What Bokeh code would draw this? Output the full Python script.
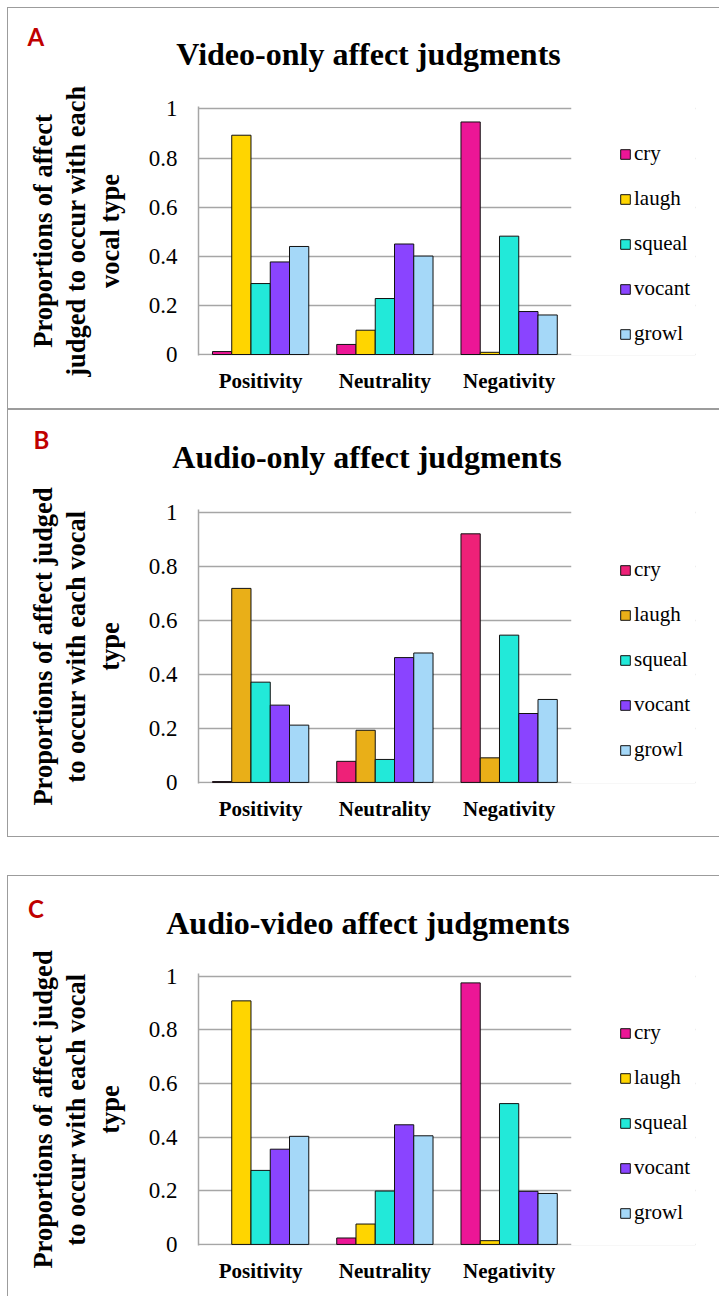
from bokeh.plotting import figure
from bokeh.models import (ColumnDataSource, FactorRange, Range1d, FixedTicker,
                          CustomJSTickFormatter, Legend, LegendItem, Label,
                          Spacer, BoxAnnotation)
from bokeh.layouts import column
from bokeh.transform import dodge
from bokeh.embed import file_html
from bokeh.resources import INLINE

categories = ["Positivity", "Neutrality", "Negativity"]
vocal_types = ["cry", "laugh", "squeal", "vocant", "growl"]
y_ticks = [0, 0.2, 0.4, 0.6, 0.8, 1]

# Panel A: video-only
video_cry = [0.012, 0.041, 0.947]
video_laugh = [0.893, 0.099, 0.009]
video_squeal = [0.289, 0.228, 0.482]
video_vocant = [0.377, 0.450, 0.175]
video_growl = [0.440, 0.401, 0.161]

# Panel B: audio-only
audio_cry = [0.003, 0.078, 0.920]
audio_laugh = [0.718, 0.193, 0.091]
audio_squeal = [0.371, 0.085, 0.545]
audio_vocant = [0.286, 0.462, 0.255]
audio_growl = [0.212, 0.479, 0.307]

# Panel C: audio-video
av_cry = [0.0, 0.024, 0.975]
av_laugh = [0.908, 0.076, 0.014]
av_squeal = [0.276, 0.199, 0.525]
av_vocant = [0.355, 0.446, 0.198]
av_growl = [0.403, 0.405, 0.190]

colors_ac = ["#EC1696", "#FFD500", "#22E9D9", "#8A44FF", "#A5D8F8"]
colors_b = ["#EE2178", "#E9AF18", "#22E9D9", "#8A44FF", "#A5D8F8"]

SERIF = "Liberation Serif"
GRID = "#a6a6a6"
BOX = "#9c9c9c"
W = 711
HDR = 70
LEFT_BORDER = {"border-left": "1px solid " + BOX}


def header(letter, title, title_xy, letter_xy):
    h = figure(width=W, height=HDR, x_range=Range1d(0, W),
               y_range=Range1d(HDR, 0), x_axis_location=None,
               y_axis_location=None, min_border=0, toolbar_location=None,
               output_backend="svg", title=None, frame_align=False,
               styles=LEFT_BORDER)
    h.grid.visible = False
    h.outline_line_color = None
    h.add_layout(Label(x=title_xy[0], y=title_xy[1], text=title,
                       text_align="center", text_baseline="alphabetic",
                       text_font=SERIF, text_font_style="bold",
                       text_font_size="32px", text_color="black"))
    h.add_layout(Label(x=letter_xy[0], y=letter_xy[1], text=letter,
                       text_align="left", text_baseline="alphabetic",
                       text_font="Lato", text_font_style="bold",
                       text_font_size="24px", text_color="#C00000"))
    return h


def chart(ylabel, values, colors, height, top, bottom, legend_y):
    data = dict(cat=categories)
    for t, v in zip(vocal_types, values):
        data[t] = v
        # zero-height bars get no outline, as in the original
        data[t + "_la"] = [1.0 if x > 0 else 0.0 for x in v]
    src = ColumnDataSource(data)
    # a blank fourth slot on the x range leaves room for the legend
    p = figure(x_range=FactorRange(*categories, " "),
               y_range=Range1d(-0.004, 1.01),
               width=W, height=height, output_backend="svg",
               toolbar_location=None, title=None, min_border_left=190,
               min_border_right=24, min_border_top=top,
               min_border_bottom=bottom, frame_align=False,
               styles=LEFT_BORDER)
    p.outline_line_color = None

    w = 0.155
    rends = []
    for i, t in enumerate(vocal_types):
        r = p.vbar(x=dodge("cat", (i - 2) * w, range=p.x_range), top=t,
                   width=w, source=src, fill_color=colors[i],
                   line_color="#111111", line_width=1,
                   line_alpha=t + "_la")
        rends.append(r)

    p.xgrid.grid_line_color = None
    p.ygrid.ticker = FixedTicker(ticks=y_ticks)
    p.ygrid.grid_line_color = GRID
    p.ygrid.grid_line_width = 1.5

    # white mask over the legend slot so grid lines stop at the plot edge
    p.add_layout(BoxAnnotation(left=3, fill_color="white", fill_alpha=1,
                               line_color=None, level="underlay"))

    p.yaxis.ticker = FixedTicker(ticks=y_ticks)
    p.yaxis.formatter = CustomJSTickFormatter(code="return String(tick)")
    p.yaxis.major_tick_line_color = None
    p.yaxis.minor_tick_line_color = None
    p.yaxis.major_tick_out = 0
    p.yaxis.major_tick_in = 0
    p.yaxis.major_label_standoff = 21
    p.yaxis.major_label_text_font = SERIF
    p.yaxis.major_label_text_font_size = "23px"
    p.yaxis.major_label_text_color = "black"
    p.yaxis.axis_line_color = GRID
    p.yaxis.axis_line_width = 1.5
    p.yaxis.axis_label = ylabel
    p.yaxis.axis_label_text_font = SERIF
    p.yaxis.axis_label_text_font_style = "bold"
    p.yaxis.axis_label_text_font_size = "26.5px"
    p.yaxis.axis_label_text_line_height = 1.12
    p.yaxis.axis_label_text_color = "black"
    p.yaxis.axis_label_standoff = 21

    p.xaxis.major_tick_line_color = None
    p.xaxis.minor_tick_line_color = None
    p.xaxis.major_tick_out = 0
    p.xaxis.major_tick_in = 0
    p.xaxis.major_label_standoff = 13
    p.xaxis.major_label_text_font = SERIF
    p.xaxis.major_label_text_font_style = "bold"
    p.xaxis.major_label_text_font_size = "21px"
    p.xaxis.major_label_text_color = "black"
    p.xaxis.axis_line_color = None

    # index=2 (Negativity) has a non-zero bar for every type -> outlined swatch
    legend = Legend(items=[LegendItem(label=t, renderers=[r], index=2)
                           for t, r in zip(vocal_types, rends)],
                    location=(421, legend_y))
    legend.border_line_color = None
    legend.background_fill_alpha = 0
    legend.padding = 0
    legend.margin = 0
    legend.spacing = 20
    legend.label_height = 24
    legend.glyph_height = 12
    legend.glyph_width = 12
    legend.label_standoff = 3
    legend.label_text_font = SERIF
    legend.label_text_font_size = "21px"
    legend.label_text_color = "black"
    p.add_layout(legend)
    return p


def hline():
    return Spacer(width=W + 1, height=1, styles={"background-color": BOX})


hA = header("A", "Video-only affect judgments", (360, 45), (19, 28))
pA = chart("Proportions of affect\njudged to occur with each\nvocal type",
           [video_cry, video_laugh, video_squeal, video_vocant, video_growl],
           colors_ac, 330, 28, 53, 9)

hB = header("B", "Audio-only affect judgments", (358.5, 46), (25, 29))
pB = chart("Proportions of affect judged\nto occur with each vocal\ntype",
           [audio_cry, audio_laugh, audio_squeal, audio_vocant, audio_growl],
           colors_b, 356, 29, 53, 21)

hC = header("C", "Audio-video affect judgments", (359.5, 46), (19.5, 32))
pC = chart("Proportions of affect judged\nto occur with each vocal\ntype",
           [av_cry, av_laugh, av_squeal, av_vocant, av_growl],
           colors_ac, 350, 27, 51, 20)

gap = Spacer(width=W + 1, height=38)

layout = column(hline(), hA, pA, hline(), hline(), hB, pB, hline(), gap,
                hline(), hC, pC,
                styles={"margin-left": "7px", "margin-top": "7px"})
open("out.html", "w").write(file_html(layout, INLINE))
